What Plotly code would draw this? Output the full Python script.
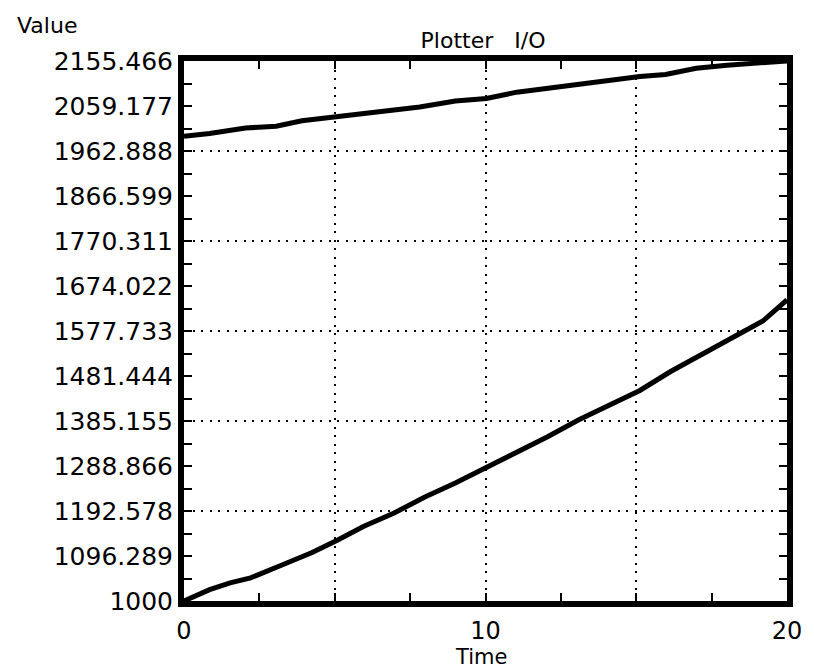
import plotly.graph_objects as go

# ---- data ----
time_upper = [0, 0.85, 2.04, 3.06, 3.91, 5.01, 5.95, 6.97, 7.82, 9.0, 10.03,
              11.04, 12.06, 13.08, 14.1, 15.12, 15.97, 16.99, 18.01, 19.03, 20]
value_upper = [1994.2, 2000.4, 2012.2, 2015.8, 2027.5, 2036.5, 2044.6, 2050.9,
               2057.2, 2069.8, 2075.2, 2088.8, 2096.9, 2106.8, 2113.1, 2122.1,
               2126.6, 2140.1, 2146.4, 2151.9, 2155.5]

time_lower = [0, 0.85, 1.53, 2.21, 3.23, 4.25, 5.1, 5.95, 6.97, 7.99, 9.0,
              10.03, 11.04, 12.06, 13.08, 14.1, 15.12, 16.14, 17.16, 18.18,
              19.2, 20]
value_lower = [1000, 1024.3, 1038.7, 1049.6, 1076.6, 1103.6, 1130.6, 1159.5,
               1188.3, 1222.6, 1252.3, 1285.6, 1318.0, 1351.4, 1387.4, 1419.0,
               1450.5, 1491.0, 1527.1, 1560.3, 1599.1, 1644.4]

# ---- axis ticks / labels ----
x_tick_vals = [0, 2.5, 5, 7.5, 10, 12.5, 15, 17.5, 20]
x_tick_text = ["0", "", "", "", "10", "", "", "", "20"]
x_grid_vals = [5, 10, 15]

y_label_vals = [1000, 1096.289, 1192.578, 1288.866, 1385.155, 1481.444,
                1577.733, 1674.022, 1770.311, 1866.599, 1962.888, 2059.177,
                2155.466]
y_label_text = ["1000", "1096.289", "1192.578", "1288.866", "1385.155",
                "1481.444", "1577.733", "1674.022", "1770.311", "1866.599",
                "1962.888", "2059.177", "2155.466"]
y_grid_vals = [1192.578, 1385.155, 1577.733, 1770.311, 1962.888]

y_mid_vals = [(a + b) / 2 for a, b in zip(y_label_vals[:-1], y_label_vals[1:])]
y_tick_vals = sorted(y_label_vals + y_mid_vals)
y_tick_text = [y_label_text[y_label_vals.index(v)] if v in y_label_vals else ""
               for v in y_tick_vals]

X_RANGE = [0, 20]
Y_RANGE = [1000, 2155.466]
FONT = "DejaVu Sans"

fig = go.Figure()
for xs, ys in [(time_upper, value_upper), (time_lower, value_lower)]:
    fig.add_trace(go.Scatter(x=xs, y=ys, mode="lines",
                             line=dict(color="black", width=5),
                             showlegend=False, hoverinfo="skip"))

# empty helper traces so the overlay axes (mirrored ticks, dotted grid) render
for xa, ya in [("x2", "y2"), ("x3", "y3")]:
    fig.add_trace(go.Scatter(x=[None], y=[None], mode="lines", xaxis=xa,
                             yaxis=ya, showlegend=False, hoverinfo="skip"))

tick_common = dict(ticks="inside", ticklen=8, tickwidth=2, tickcolor="black",
                   zeroline=False, showgrid=False)
grid_common = dict(showgrid=True, gridcolor="black", gridwidth=2,
                   griddash="2px,6.5px", ticks="", showticklabels=False,
                   zeroline=False, showline=False)

PLOT_L, PLOT_R, PLOT_T, PLOT_B = 184, 793, 61, 601
PW, PH = PLOT_R - PLOT_L, PLOT_B - PLOT_T

fig.update_layout(
    width=814, height=669,
    paper_bgcolor="white", plot_bgcolor="white",
    margin=dict(l=PLOT_L, r=814 - PLOT_R, t=PLOT_T, b=669 - PLOT_B),
    font=dict(family=FONT, color="black"),
    title=dict(text="Plotter\u00a0\u00a0\u00a0I/O", x=(486 - PLOT_L) / PW,
               xref="paper", xanchor="center",
               y=1 - 40 / 669, yref="container", yanchor="middle",
               font=dict(size=22, family=FONT, color="black")),
    xaxis=dict(range=X_RANGE, tickmode="array", tickvals=x_tick_vals,
               ticktext=x_tick_text, showline=True, linewidth=6,
               linecolor="black", mirror=True, ticklabelstandoff=3,
               tickfont=dict(size=24, family=FONT, color="black"),
               **tick_common),
    xaxis2=dict(range=X_RANGE, overlaying="x", side="top", anchor="y2",
                tickmode="array", tickvals=x_tick_vals, showticklabels=False,
                showline=False, **tick_common),
    xaxis3=dict(range=X_RANGE, overlaying="x", anchor="y3", tickmode="array",
                tickvals=x_grid_vals, **grid_common),
    yaxis=dict(range=Y_RANGE, tickmode="array", tickvals=y_tick_vals,
               ticktext=y_tick_text, showline=True, linewidth=6,
               linecolor="black", mirror=True,
               tickfont=dict(size=25, family=FONT, color="black"),
               **tick_common),
    yaxis2=dict(range=Y_RANGE, overlaying="y", side="right", anchor="x2",
                tickmode="array", tickvals=y_tick_vals, showticklabels=False,
                showline=False, **tick_common),
    yaxis3=dict(range=Y_RANGE, overlaying="y", anchor="x3", tickmode="array",
                tickvals=y_grid_vals, **grid_common),
    annotations=[
        dict(text="Value", xref="paper", yref="paper",
             x=(13 - PLOT_L) / PW, y=(PLOT_B - 25) / PH,
             xanchor="left", yanchor="middle", showarrow=False,
             font=dict(size=22, family=FONT, color="black")),
        dict(text="Time", xref="paper", yref="paper",
             x=(484 - PLOT_L) / PW, y=(PLOT_B - 657) / PH,
             xanchor="center", yanchor="middle", showarrow=False,
             font=dict(size=21, family=FONT, color="black")),
    ],
)

fig.write_html("out.html",
               config={"displayModeBar": False},
               post_script="document.body.style.margin='0';"
                           "document.body.style.overflow='hidden';")
